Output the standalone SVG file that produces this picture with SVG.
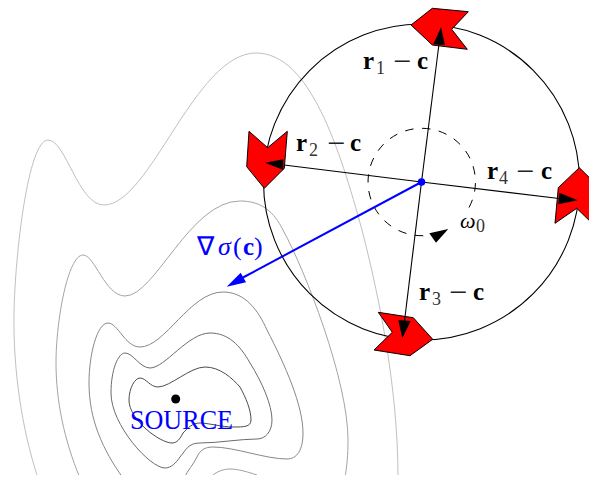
<svg xmlns="http://www.w3.org/2000/svg" width="589" height="478" viewBox="0 0 589 478">
<style>
.c{fill:none;stroke-width:1}
.s{fill:#ff0000;stroke:#000;stroke-width:1;stroke-linejoin:miter}
.h{fill:#000;stroke:none}
.l{fill:none;stroke:#000;stroke-width:1.1}
text{font-family:"Liberation Serif","Times New Roman",serif;fill:#000}
.b{font-weight:bold;font-size:25px}
.sub{font-size:18px;fill:#333}
.m{font-size:32px;fill:#222}
.g{font-size:26px}
.blue{fill:#0000ff}
</style>
<defs><clipPath id="cp"><rect x="0" y="0" width="589" height="475"/></clipPath></defs>
<rect width="589" height="478" fill="#fff"/>
<g id="contours" clip-path="url(#cp)">
<path class="c" stroke="#c0c0c0" d="M38 478C22 430 13 370 14 313C15 255 28 140 48 140C66 140 78 205 104 205C150 205 195 53 256 53C310 53 340 150 362 230C380 300 398 390 398 478"/>
<path class="c" stroke="#a4a4a4" d="M80 478C64 440 56 400 56 363C56 320 68 255 83 255C95 255 105 296 125 296C155 296 190 201 240 201C262 201 274 212 283 230C305 270 348 380 348 440C348 455 347 465 345 478"/>
<path class="c" stroke="#888" d="M123 478C103 450 89 420 89 383C89 355 97 323 108 323C118 323 125 347 140 347C165 347 190 292 223 292C245 292 258 310 267 330C285 365 303 405 303 433C303 450 297 459 287 459C265 459 235 447 213 447C205 447 200 450 197 457C193 465 188 470 184 478"/>
<path class="c" stroke="#6c6c6c" d="M165 468C150 468 111 425 111 393C111 370 118 353 125 353C133 353 140 368 150 368C165 368 188 333 210 333C228 333 240 345 250 363C262 382 272 405 272 420C272 432 265 439 257 439C240 439 218 443 200 443C188 443 186 450 180 457C176 463 171 468 165 468Z"/>
<path class="c" stroke="#4c4c4c" d="M172 443C160 443 129 420 129 400C129 388 135 378 140 378C146 378 150 387 158 387C170 387 190 367 205 367C220 367 232 378 240 387C246 398 251 410 251 420C251 427 244 427 233 427C222 427 208 423 200 423C192 423 188 428 183 433C180 439 177 443 172 443Z"/>
<path class="c" stroke="#a0a0a0" d="M213 475C218 471 224 469 230 469C238 469 248 472 257 475"/>
</g>
<g id="workspace-circle"><circle cx="421.5" cy="182" r="158" fill="none" stroke="#000" stroke-width="1.1"/></g>
<g id="sensor-1"><polygon class="s" points="411,25 432.3,8.3 468.3,11.7 451.7,29.3 467.3,49.3 432.3,45"/></g>
<g id="sensor-2"><polygon class="s" points="249,131.3 267.7,147.7 287.3,131.3 284.3,168.3 264.3,188.3 246.7,166.7"/></g>
<g id="sensor-3"><polygon class="s" points="378.3,312.3 413.3,317.7 432.7,339.3 410,355.7 374,350 392.3,332.3"/></g>
<g id="sensor-4"><polygon class="s" points="579.3,167.7 558.3,187.7 555,223.3 576.7,208.3 595,226 602,190"/></g>
<g id="rotation"><path d="M469 207.5A53.7 53.7 0 1 0 425 235.6" fill="none" stroke="#000" stroke-width="1" stroke-dasharray="8.5 8.5"/>
<polygon class="h" points="429.3,233.3 448.3,229 436,242.7"/></g>
<g id="connectors">
<line class="l" x1="421.5" y1="182" x2="439" y2="44"/>
<polygon class="h" points="441,27.3 433.3,44.3 445,45"/>
<line class="l" x1="421.5" y1="182" x2="284" y2="165"/>
<polygon class="h" points="265,162.7 283.3,159.3 283.3,170"/>
<line class="l" x1="421.5" y1="182" x2="559" y2="198.5"/>
<polygon class="h" points="577.7,200.3 559.3,192.7 558.3,204.3"/>
<line class="l" x1="421.5" y1="182" x2="404.5" y2="321"/>
<polygon class="h" points="402.3,338.3 398.3,320 410.7,321"/>
<line x1="421.5" y1="182" x2="243" y2="277.5" stroke="#0000ff" stroke-width="2"/>
<polygon points="226.7,286.7 240.7,272.7 246,282.3" fill="#0000ff"/>
<circle cx="421.5" cy="182" r="3.8" fill="#0000ff"/>
</g>
<g id="source"><circle cx="175.7" cy="399" r="4.5" fill="#000"/>
<text class="blue" x="130" y="429" font-size="27" textLength="103" lengthAdjust="spacingAndGlyphs">SOURCE</text></g>
<g id="labels">
<text><tspan class="b" x="363" y="69">r</tspan><tspan class="sub" x="376" y="74">1</tspan><tspan class="m" x="393" y="71.5">−</tspan><tspan class="b" x="417" y="69">c</tspan></text>
<text><tspan class="b" x="296" y="151">r</tspan><tspan class="sub" x="309" y="156">2</tspan><tspan class="m" x="327" y="153.5">−</tspan><tspan class="b" x="350" y="151">c</tspan></text>
<text><tspan class="b" x="419" y="300">r</tspan><tspan class="sub" x="432" y="305">3</tspan><tspan class="m" x="449" y="302.5">−</tspan><tspan class="b" x="473" y="300">c</tspan></text>
<text><tspan class="b" x="487" y="179">r</tspan><tspan class="sub" x="499" y="184">4</tspan><tspan class="m" x="516" y="181.5">−</tspan><tspan class="b" x="541" y="179">c</tspan></text>
<text><tspan font-size="22" font-style="italic" x="460" y="228">ω</tspan><tspan class="sub" x="476" y="232">0</tspan></text>
<text><tspan class="g blue" x="197" y="255">∇</tspan><tspan class="g blue" font-style="italic" x="218" y="255">σ</tspan><tspan class="g blue" x="233" y="255">(</tspan><tspan class="b blue" x="243" y="255">c</tspan><tspan class="g blue" x="254" y="255">)</tspan></text>
</g>
</svg>
